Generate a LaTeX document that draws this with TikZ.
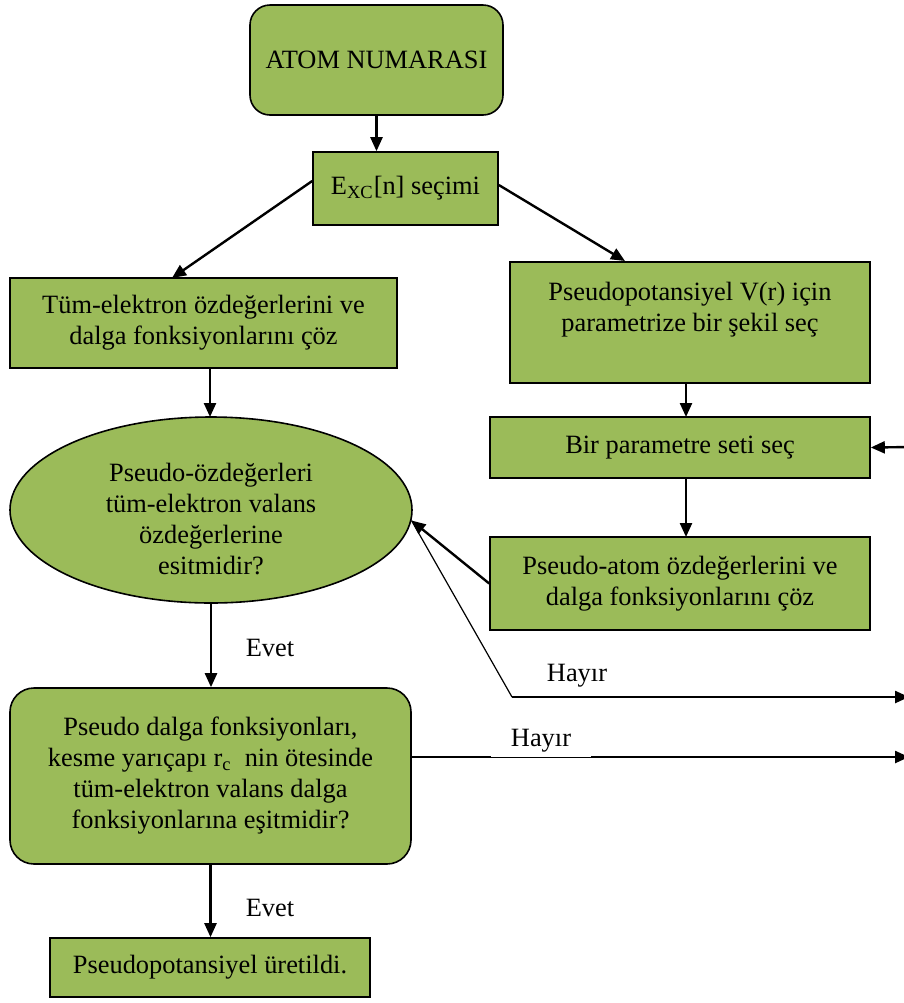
\documentclass[tikz,border=0pt]{standalone}
\usepackage{fontspec}
\setmainfont{Liberation Serif}
\usetikzlibrary{arrows.meta,shapes.geometric}
\definecolor{kutuyesil}{HTML}{9BBB59}
\tikzset{
	kutu/.style={draw=black, line width=0.8pt, fill=kutuyesil, align=center, inner sep=0pt},
	ok/.style={line width=1.2pt, -{Triangle[length=7pt,width=6pt]}},
	ince/.style={line width=0.6pt}
}

\begin{document}
\begin{tikzpicture}[x=0.5pt,y=-0.5pt,font=\fontsize{13.2}{15.5}\selectfont]
	\useasboundingbox (0,0) rectangle (904,1003);
	\node[kutu, rounded corners=10pt, minimum width=126.5pt, minimum height=55pt] (atom) at (376.5,60) {ATOM NUMARASI};
	\node[kutu, minimum width=92.5pt, minimum height=36.5pt] (exc) at (405.5,188.5) {E\textsubscript{XC}[n] seçimi};
	\node[kutu, minimum width=193.5pt, minimum height=45pt] (tum) at (203.5,323) {Tüm-elektron özdeğerlerini ve\\dalga fonksiyonlarını çöz};
	\node[kutu, minimum width=180pt, minimum height=60.5pt] (pv) at (690,322.5) {Pseudopotansiyel V(r) için\\parametrize bir şekil seç\\\mbox{}};
	\node[kutu, minimum width=190pt, minimum height=30.5pt] (bir) at (680,447.5) {Bir parametre seti seç};
	\node[kutu, minimum width=190pt, minimum height=46.5pt] (patom) at (680,583.5) {Pseudo-atom özdeğerlerini ve\\dalga fonksiyonlarını çöz};
	\node[kutu, ellipse, minimum width=201pt, minimum height=93pt] (ell) at (211,510) {\raisebox{-6pt}[\height][\depth]{\begin{tabular}{@{}c@{}}Pseudo-özdeğerleri\\tüm-elektron valans\\özdeğerlerine\\esitmidir?\end{tabular}}};
	\node[kutu, rounded corners=12pt, minimum width=200.5pt, minimum height=88pt] (pdf) at (210.5,776) {Pseudo dalga fonksiyonları,\\kesme yarıçapı r\textsubscript{c}\ \ nin ötesinde\\tüm-elektron valans dalga\\fonksiyonlarına eşitmidir?};
	\node[kutu, minimum width=160pt, minimum height=29.5pt] (uret) at (210,967.5) {Pseudopotansiyel üretildi.};
	
	\coordinate (kose) at (512,697);
	\coordinate (sag1) at (909,697);
	\coordinate (sag2) at (909,757);
	\coordinate (sag3) at (912,447);
	
	\draw[ok] (atom.south) -- (atom.south |- exc.north);
	\draw[ok] (exc.west |- 0,181) -- (172,278);
	\draw[ok] (exc.east |- 0,185) -- (625,261);
	\draw[ok] (210,368) -- (210,417);
	\draw[ok] (686,383) -- (686,417);
	\draw[ok] (sag3) -- (bir.east);
	\draw[ok] (686,478) -- (686,537);
	\draw[ok] (patom.west) -- (ell.-3);
	\draw[ince] (ell.-3) -- (kose);
	\draw[ok] (kose) -- (sag1);
	\draw[ok] (ell.south) -- (ell.south |- pdf.north);
	\draw[ok] (pdf.east |- sag2) -- (sag2);
	\draw[ok] (pdf.south) -- (pdf.south |- uret.north);
	
	\node (hayir1) at (577,676) {Hayır};
	\node[fill=white, anchor=south, inner xsep=10pt, inner ysep=2pt] (hayir2) at (541,757) {Hayır};
	\node (evet1) at (270,648) {Evet};
	\node (evet2) at (270,908) {Evet};
\end{tikzpicture}
\end{document}
